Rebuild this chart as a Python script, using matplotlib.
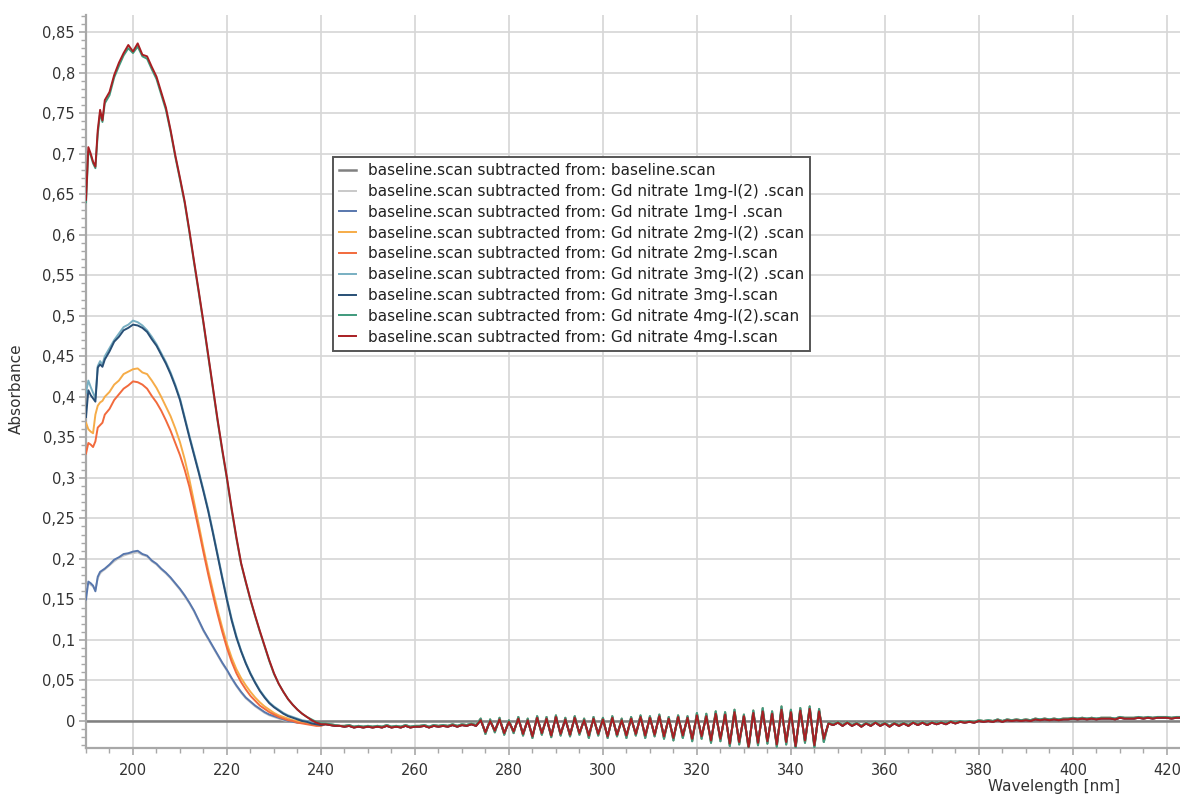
import numpy as np
import matplotlib
matplotlib.use("Agg")
import matplotlib.pyplot as plt
from matplotlib.ticker import MultipleLocator, FuncFormatter

# ---------------- data ----------------
peak_nm = [190, 190.5, 191, 191.5, 192, 192.5, 193, 193.5, 194] + list(range(195, 241))
tail_nm = list(range(241, 424))

abs_4mg = [0.643, 0.708, 0.700, 0.690, 0.684, 0.729, 0.754, 0.741, 0.766,
           0.776, 0.797, 0.812, 0.824, 0.834, 0.826, 0.836, 0.822, 0.820, 0.807,
           0.795, 0.776, 0.757, 0.729, 0.698, 0.670, 0.641, 0.605, 0.567, 0.530,
           0.492, 0.452, 0.412, 0.372, 0.335, 0.300, 0.262, 0.227, 0.195, 0.172,
           0.150, 0.130, 0.111, 0.093, 0.075, 0.059, 0.046, 0.036, 0.027, 0.020,
           0.014, 0.009, 0.005, 0.001, -0.002, -0.004]
abs_4mg_2 = [0.640, 0.703, 0.698, 0.688, 0.682, 0.724, 0.750, 0.739, 0.762,
             0.772, 0.794, 0.808, 0.821, 0.830, 0.824, 0.832, 0.820, 0.817, 0.804,
             0.792, 0.773, 0.754, 0.727, 0.696, 0.668, 0.639, 0.603, 0.565, 0.528,
             0.490, 0.450, 0.410, 0.370, 0.333, 0.298, 0.260, 0.225, 0.194, 0.171,
             0.149, 0.129, 0.110, 0.092, 0.074, 0.058, 0.046, 0.036, 0.027, 0.020,
             0.014, 0.009, 0.005, 0.002, -0.001, -0.003]
abs_3mg = [0.375, 0.408, 0.402, 0.398, 0.394, 0.436, 0.440, 0.437, 0.446,
           0.456, 0.468, 0.474, 0.482, 0.485, 0.489, 0.488, 0.485, 0.480, 0.471,
           0.463, 0.452, 0.441, 0.428, 0.413, 0.396, 0.373, 0.350, 0.328, 0.306,
           0.283, 0.259, 0.232, 0.204, 0.176, 0.149, 0.124, 0.103, 0.086, 0.071,
           0.058, 0.047, 0.037, 0.029, 0.022, 0.017, 0.013, 0.009, 0.006, 0.004,
           0.002, 0.000, -0.001, -0.003, -0.004, -0.005]
abs_3mg_2 = [0.405, 0.420, 0.412, 0.405, 0.398, 0.438, 0.444, 0.440, 0.450,
             0.460, 0.470, 0.478, 0.486, 0.489, 0.494, 0.492, 0.488, 0.482, 0.474,
             0.465, 0.454, 0.443, 0.430, 0.415, 0.398, 0.375, 0.352, 0.330, 0.308,
             0.285, 0.261, 0.234, 0.206, 0.178, 0.151, 0.126, 0.105, 0.087, 0.072,
             0.059, 0.048, 0.038, 0.030, 0.023, 0.018, 0.014, 0.010, 0.007, 0.005,
             0.003, 0.001, 0.000, -0.002, -0.003, -0.004]
abs_2mg_2 = [0.368, 0.360, 0.357, 0.355, 0.378, 0.389, 0.393, 0.395, 0.400,
             0.406, 0.415, 0.420, 0.428, 0.431, 0.434, 0.435, 0.430, 0.428, 0.420,
             0.411, 0.400, 0.388, 0.376, 0.361, 0.344, 0.323, 0.298, 0.270, 0.242,
             0.213, 0.186, 0.161, 0.137, 0.115, 0.095, 0.078, 0.064, 0.053, 0.044,
             0.036, 0.029, 0.023, 0.018, 0.014, 0.010, 0.007, 0.005, 0.003, 0.001,
             0.000, -0.002, -0.003, -0.004, -0.005, -0.005]
abs_2mg = [0.330, 0.343, 0.341, 0.338, 0.345, 0.362, 0.365, 0.368, 0.378,
           0.385, 0.396, 0.403, 0.410, 0.414, 0.419, 0.418, 0.415, 0.410, 0.401,
           0.393, 0.383, 0.371, 0.358, 0.343, 0.328, 0.310, 0.289, 0.263, 0.236,
           0.208, 0.181, 0.156, 0.132, 0.110, 0.090, 0.073, 0.059, 0.048, 0.039,
           0.031, 0.025, 0.019, 0.015, 0.011, 0.008, 0.005, 0.003, 0.001, 0.000,
           -0.002, -0.003, -0.004, -0.005, -0.006, -0.006]
abs_1mg = [0.150, 0.172, 0.170, 0.167, 0.160, 0.178, 0.184, 0.186, 0.188,
           0.193, 0.199, 0.202, 0.206, 0.207, 0.209, 0.210, 0.206, 0.204, 0.198,
           0.194, 0.188, 0.183, 0.177, 0.170, 0.163, 0.155, 0.146, 0.136, 0.124,
           0.112, 0.102, 0.092, 0.082, 0.072, 0.063, 0.053, 0.044, 0.036, 0.029,
           0.024, 0.019, 0.015, 0.011, 0.008, 0.006, 0.004, 0.002, 0.000, -0.001,
           -0.002, -0.002, -0.003, -0.003, -0.004, -0.004]
abs_1mg_2 = [0.165, 0.170, 0.168, 0.166, 0.162, 0.176, 0.182, 0.185, 0.187,
             0.192, 0.197, 0.201, 0.204, 0.206, 0.207, 0.208, 0.205, 0.203, 0.197,
             0.193, 0.187, 0.182, 0.176, 0.169, 0.162, 0.154, 0.145, 0.135, 0.123,
             0.111, 0.101, 0.091, 0.081, 0.071, 0.062, 0.052, 0.043, 0.035, 0.028,
             0.023, 0.018, 0.014, 0.010, 0.007, 0.005, 0.003, 0.001, 0.000, -0.001,
             -0.002, -0.002, -0.003, -0.003, -0.004, -0.004]

tail_a = [-0.004, -0.005, -0.006, -0.006, -0.007, -0.006, -0.008, -0.007, -0.008, -0.007,
          -0.008, -0.007, -0.008, -0.006, -0.008, -0.007, -0.008, -0.006, -0.008, -0.007,
          -0.007, -0.006, -0.008, -0.006, -0.007, -0.006, -0.007, -0.005, -0.007, -0.005,
          -0.006, -0.004, -0.006, 0.001, -0.014, 0.000, -0.012, 0.002, -0.015, -0.001,
          -0.013, 0.003, -0.016, 0.001, -0.019, 0.004, -0.015, 0.003, -0.018, 0.005,
          -0.016, 0.002, -0.017, 0.004, -0.015, 0.001, -0.018, 0.003, -0.016, 0.002,
          -0.019, 0.004, -0.017, 0.001, -0.018, 0.003, -0.016, 0.005, -0.018, 0.004,
          -0.017, 0.006, -0.019, 0.003, -0.021, 0.005, -0.018, 0.004, -0.022, 0.007,
          -0.019, 0.006, -0.024, 0.009, -0.022, 0.008, -0.028, 0.011, -0.026, 0.006,
          -0.032, 0.010, -0.027, 0.012, -0.025, 0.009, -0.029, 0.014, -0.026, 0.011,
          -0.031, 0.013, -0.024, 0.015, -0.030, 0.012, -0.022, -0.003, -0.005, -0.002,
          -0.006, -0.002, -0.006, -0.003, -0.007, -0.003, -0.006, -0.002, -0.006, -0.003,
          -0.007, -0.003, -0.006, -0.003, -0.006, -0.002, -0.005, -0.002, -0.005, -0.002,
          -0.004, -0.002, -0.004, -0.001, -0.003, -0.001, -0.002, -0.001, -0.002, 0.000,
          -0.001, 0.000, -0.001, 0.001, -0.001, 0.001, 0.000, 0.001, 0.000, 0.001,
          0.000, 0.002, 0.001, 0.002, 0.001, 0.002, 0.001, 0.002, 0.002, 0.003,
          0.002, 0.003, 0.002, 0.003, 0.002, 0.003, 0.003, 0.003, 0.002, 0.004,
          0.003, 0.003, 0.003, 0.004, 0.003, 0.004, 0.003, 0.004, 0.004, 0.004,
          0.003, 0.004, 0.004]
tail_b = [-0.003, -0.004, -0.005, -0.006, -0.006, -0.005, -0.007, -0.006, -0.007, -0.006,
          -0.007, -0.006, -0.007, -0.005, -0.007, -0.006, -0.007, -0.005, -0.007, -0.006,
          -0.006, -0.005, -0.007, -0.005, -0.006, -0.005, -0.006, -0.004, -0.006, -0.004,
          -0.005, -0.003, -0.005, 0.003, -0.016, 0.002, -0.014, 0.004, -0.017, 0.001,
          -0.015, 0.005, -0.018, 0.003, -0.021, 0.006, -0.017, 0.005, -0.020, 0.007,
          -0.018, 0.004, -0.019, 0.006, -0.017, 0.003, -0.021, 0.005, -0.018, 0.004,
          -0.021, 0.006, -0.019, 0.003, -0.021, 0.005, -0.018, 0.007, -0.021, 0.006,
          -0.019, 0.008, -0.022, 0.005, -0.024, 0.007, -0.021, 0.006, -0.025, 0.010,
          -0.022, 0.009, -0.027, 0.012, -0.025, 0.011, -0.031, 0.014, -0.029, 0.008,
          -0.035, 0.013, -0.030, 0.016, -0.028, 0.012, -0.032, 0.018, -0.029, 0.014,
          -0.034, 0.016, -0.027, 0.018, -0.033, 0.015, -0.026, -0.002, -0.004, -0.001,
          -0.005, -0.001, -0.005, -0.002, -0.006, -0.002, -0.005, -0.001, -0.005, -0.002,
          -0.006, -0.002, -0.005, -0.002, -0.005, -0.001, -0.004, -0.001, -0.004, -0.001,
          -0.003, -0.001, -0.003, 0.000, -0.002, 0.000, -0.001, 0.000, -0.001, 0.001,
          0.000, 0.001, 0.000, 0.002, 0.000, 0.002, 0.001, 0.002, 0.001, 0.002,
          0.001, 0.003, 0.002, 0.003, 0.002, 0.003, 0.002, 0.003, 0.003, 0.004,
          0.003, 0.004, 0.003, 0.004, 0.003, 0.004, 0.004, 0.004, 0.003, 0.005,
          0.004, 0.004, 0.004, 0.005, 0.004, 0.005, 0.004, 0.005, 0.005, 0.005,
          0.004, 0.005, 0.005]

baseline_nm = [190, 423]
baseline_abs = [0.0, 0.0]

labels = [
    "baseline.scan subtracted from: baseline.scan",
    "baseline.scan subtracted from: Gd nitrate 1mg-l(2) .scan",
    "baseline.scan subtracted from: Gd nitrate 1mg-l .scan",
    "baseline.scan subtracted from: Gd nitrate 2mg-l(2) .scan",
    "baseline.scan subtracted from: Gd nitrate 2mg-l.scan",
    "baseline.scan subtracted from: Gd nitrate 3mg-l(2) .scan",
    "baseline.scan subtracted from: Gd nitrate 3mg-l.scan",
    "baseline.scan subtracted from: Gd nitrate 4mg-l(2).scan",
    "baseline.scan subtracted from: Gd nitrate 4mg-l.scan",
]
colors = ["#808080", "#c9c9c9", "#5877ad", "#f6ac48", "#f26a3c",
          "#78afc2", "#284f76", "#3f9a7c", "#a81e22"]

y_ticks = [0, 0.05, 0.1, 0.15, 0.2, 0.25, 0.3, 0.35, 0.4, 0.45, 0.5,
           0.55, 0.6, 0.65, 0.7, 0.75, 0.8, 0.85]
x_ticks = [200, 220, 240, 260, 280, 300, 320, 340, 360, 380, 400, 420]

# ---------------- figure ----------------
fig = plt.figure(figsize=(11.8, 7.96), dpi=100)
ax = fig.add_axes([86 / 1180, 1 - 748 / 796, 1 - 86 / 1180, (748 - 15) / 796])

series = [
    (abs_1mg_2, tail_b), (abs_1mg, tail_a), (abs_2mg_2, tail_b), (abs_2mg, tail_a),
    (abs_3mg_2, tail_b), (abs_3mg, tail_a), (abs_4mg_2, tail_b), (abs_4mg, tail_a),
]
x_all = np.array(peak_nm + tail_nm, dtype=float)

ax.plot(baseline_nm, baseline_abs, color=colors[0], lw=1.8, label=labels[0], zorder=2)
for (pk, tl), lab, col in zip(series, labels[1:], colors[1:]):
    ax.plot(x_all, np.array(pk + tl), color=col, lw=1.4, label=lab, zorder=3)

ax.set_xlim(190, 422.8)
ax.set_ylim(-0.0333, 0.871)

ax.set_xticks(x_ticks)
ax.set_yticks(y_ticks)
ax.xaxis.set_minor_locator(MultipleLocator(5))
ax.yaxis.set_minor_locator(MultipleLocator(0.01))
ax.yaxis.set_major_formatter(FuncFormatter(lambda v, p: ("%g" % round(v, 3)).replace(".", ",")))

ax.grid(True, which="major", color="#d6d6d6", lw=1.2, zorder=0)
ax.set_axisbelow(True)
for s in ["top", "right"]:
    ax.spines[s].set_visible(False)
for s in ["left", "bottom"]:
    ax.spines[s].set_color("#a8a8a8")
    ax.spines[s].set_linewidth(1.6)

ax.tick_params(which="major", length=5, width=1.2, color="#a8a8a8",
               labelsize=10.5, labelcolor="#333333")
ax.tick_params(axis="x", which="major", pad=6)
ax.tick_params(axis="y", which="major", pad=3)
ax.tick_params(which="minor", length=3.5, width=1.0, color="#a8a8a8")

ax.set_ylabel("Absorbance", fontsize=11, color="#333333")
ax.yaxis.set_label_coords(-0.057, 0.49)
ax.set_xlabel("Wavelength [nm]", fontsize=11, color="#333333")
ax.xaxis.set_label_coords(0.8845, -0.042)

leg = ax.legend(loc="upper left", bbox_to_anchor=((333 - 86) / 1094, (748 - 157) / 733),
                borderaxespad=0, fontsize=11, frameon=True, fancybox=False,
                handlelength=1.1, handletextpad=0.8, labelspacing=0.38,
                borderpad=0.4, framealpha=1)
leg.get_frame().set_edgecolor("#555555")
leg.get_frame().set_linewidth(1.4)
for t in leg.get_texts():
    t.set_color("#222222")

fig.savefig("out.png", dpi=100)
